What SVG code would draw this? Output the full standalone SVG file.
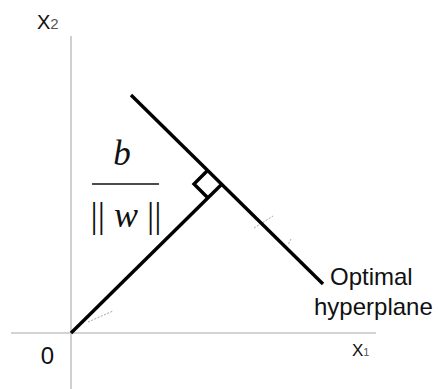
<svg xmlns="http://www.w3.org/2000/svg" width="438" height="389" viewBox="0 0 438 389">
<style>
.axis{stroke:#c4c4c4;stroke-width:1.6;fill:none}
.thick{stroke:#000;stroke-width:3.4;fill:none;stroke-linecap:butt}
.faint{stroke:#9a9a9a;stroke-width:0.9;fill:none;stroke-dasharray:2 1.5}
.lbl{font-family:"Liberation Sans",Arial,sans-serif;fill:#111}
.sub{font-family:"Liberation Sans",Arial,sans-serif;fill:#555}
.math{font-family:"Liberation Serif","Times New Roman",serif;fill:#111}
</style>
<rect width="438" height="389" fill="#fff"/>
<g id="axes">
<line class="axis" x1="71" y1="36" x2="71" y2="389"/>
<line class="axis" x1="11" y1="333" x2="376" y2="333"/>
</g>
<g id="connectors">
<line id="normal" class="thick" x1="71" y1="333" x2="222" y2="184"/>
<polyline id="right-angle" class="thick" points="208,170 194,184 208,198"/>
<line class="faint" x1="88" y1="322" x2="113" y2="311"/>
<line class="faint" x1="254" y1="228" x2="273" y2="216"/>
<line class="faint" x1="291" y1="239" x2="288" y2="245"/>
</g>
<g id="hyperplane">
<line class="thick" x1="131" y1="95" x2="323" y2="284"/>
<text class="lbl" x="330" y="285" font-size="24">Optimal</text>
<text class="lbl" x="314" y="315" font-size="24">hyperplane</text>
</g>
<g id="fraction">
<text class="math" x="122" y="165" font-size="35" font-style="italic" text-anchor="middle">b</text>
<line x1="92" y1="184" x2="159" y2="184" stroke="#111" stroke-width="1.6"/>
<text class="math" x="126" y="227" font-size="36" text-anchor="middle"><tspan letter-spacing="0">||</tspan> <tspan font-style="italic">w</tspan> <tspan letter-spacing="0">||</tspan></text>
</g>
<g id="label-x2"><text class="lbl" x="37" y="29" font-size="20">X<tspan class="sub" font-size="15">2</tspan></text></g>
<g id="label-x1"><text class="lbl" x="352" y="356" font-size="17">X<tspan class="sub" font-size="11">1</tspan></text></g>
<g id="label-origin"><text class="lbl" x="47.5" y="364" font-size="24" text-anchor="middle" fill="#222">0</text></g>
</svg>
